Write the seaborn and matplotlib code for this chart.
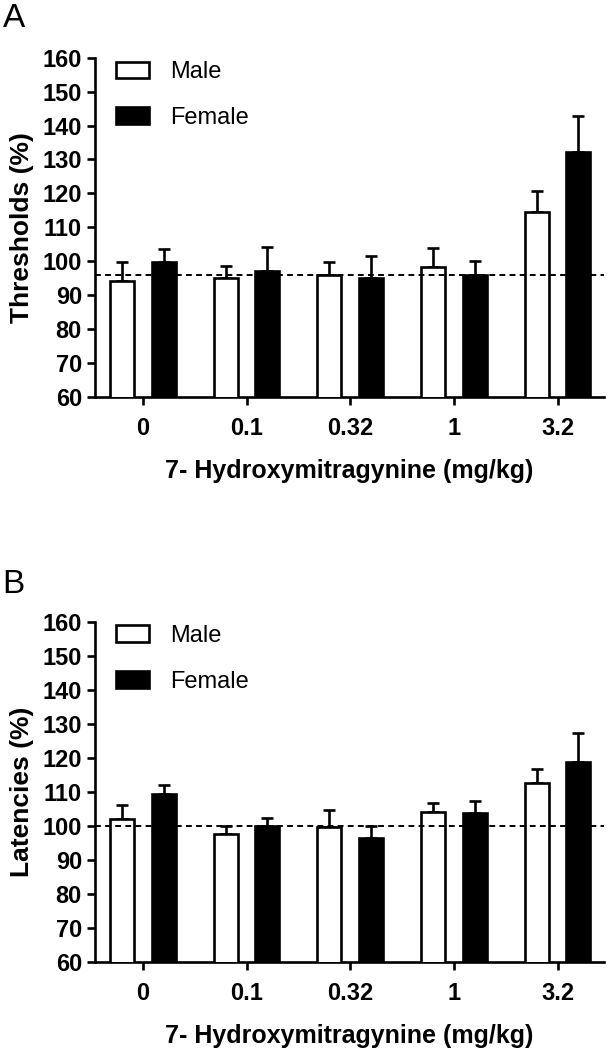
import matplotlib
matplotlib.use('Agg')
import matplotlib.pyplot as plt
import seaborn as sns
import pandas as pd
import numpy as np

doses = ['0', '0.1', '0.32', '1', '3.2']
sexes = ['Male', 'Female']

# Panel A: thresholds (%), mean and upper SEM
thr_male = [94.3, 95.1, 96.0, 98.4, 114.5]
thr_female = [99.7, 97.0, 95.0, 96.0, 132.1]
thr_male_err = [5.6, 3.5, 3.9, 5.5, 6.1]
thr_female_err = [3.9, 7.1, 6.4, 4.2, 10.7]
thr_ref = 96.0

# Panel B: latencies (%), mean and upper SEM
lat_male = [101.9, 97.6, 99.7, 104.1, 112.6]
lat_female = [109.2, 99.9, 96.5, 103.6, 118.8]
lat_male_err = [4.1, 2.3, 4.9, 2.5, 4.0]
lat_female_err = [2.7, 2.3, 3.4, 3.6, 8.6]
lat_ref = 100.0

sns.set_style('ticks')
plt.rcParams['font.family'] = ['Liberation Sans', 'DejaVu Sans']
plt.rcParams.update({'text.color': 'black', 'axes.labelcolor': 'black',
                     'xtick.color': 'black', 'ytick.color': 'black',
                     'axes.edgecolor': 'black'})
LW = 1.9


def make_df(male, female):
    return pd.DataFrame({
        'dose': doses * 2,
        'sex': ['Male'] * len(doses) + ['Female'] * len(doses),
        'value': male + female,
    })


def draw_panel(ax, male, female, male_err, female_err, ref, ylabel):
    df = make_df(male, female)
    sns.barplot(data=df, x='dose', y='value', hue='sex', order=doses, hue_order=sexes,
                palette={'Male': 'white', 'Female': 'black'}, edgecolor='black',
                linewidth=LW, errorbar=None, gap=0.42, width=0.8, ax=ax, zorder=3)
    # one-sided (upper) error bars on each bar
    errs = male_err + female_err
    bars = [p for p in ax.patches if p.get_height() > 0][:len(errs)]
    for p, e in zip(bars, errs):
        xc = p.get_x() + p.get_width() / 2
        ax.errorbar(xc, p.get_height(), yerr=[[0], [e]], fmt='none', ecolor='black',
                    elinewidth=LW, capsize=4.5, capthick=LW, zorder=2)
    ax.axhline(ref, color='black', lw=1.4, ls=(0, (3, 2.2)), zorder=4)

    ax.set_ylim(60, 160)
    ax.set_yticks(np.arange(60, 161, 10))
    ax.set_xlim(-0.46, 4.45)
    sns.despine(ax=ax)
    for s in ['left', 'bottom']:
        ax.spines[s].set_linewidth(LW)
    ax.tick_params(axis='both', width=LW, length=6, labelsize=17, direction='out')
    for t in ax.get_xticklabels() + ax.get_yticklabels():
        t.set_fontweight('bold')
    ax.tick_params(axis='x', pad=8.5)
    ax.set_xlabel('7- Hydroxymitragynine (mg/kg)', fontsize=18, fontweight='bold', labelpad=14)
    ax.set_ylabel(ylabel, fontsize=19, fontweight='bold', labelpad=6)

    handles, labels = ax.get_legend_handles_labels()
    ax.legend(handles, labels, loc='upper left', bbox_to_anchor=(0.041, 0.99), frameon=False,
              fontsize=17, labelspacing=1.0, handlelength=1.4, handleheight=0.7,
              handletextpad=0.9, borderpad=0, borderaxespad=0)


fig = plt.figure(figsize=(6.14, 10.5), dpi=100)
ax_a = fig.add_axes([0.155, 0.622, 0.829, 0.323])
ax_b = fig.add_axes([0.155, 0.084, 0.829, 0.324])

draw_panel(ax_a, thr_male, thr_female, thr_male_err, thr_female_err, thr_ref, 'Thresholds (%)')
draw_panel(ax_b, lat_male, lat_female, lat_male_err, lat_female_err, lat_ref, 'Latencies (%)')

fig.text(0.004, 1 - 27 / 1050, 'A', fontsize=24, va='baseline', ha='left')
fig.text(0.004, 1 - 593 / 1050, 'B', fontsize=24, va='baseline', ha='left')

fig.savefig('out.png', dpi=100)
